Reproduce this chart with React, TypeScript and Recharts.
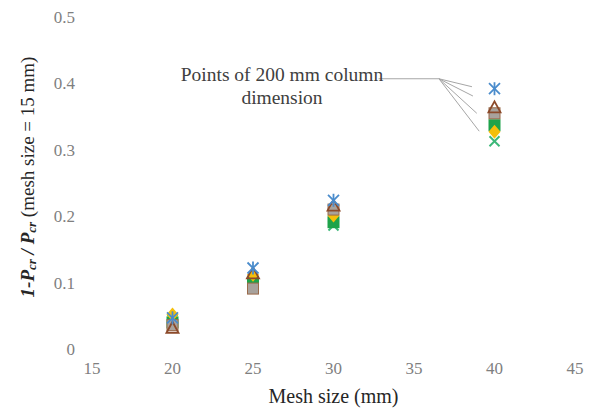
import React from 'react';
import {
  ScatterChart,
  Scatter,
  XAxis,
  YAxis,
  ReferenceLine,
  Label,
} from 'recharts';

// mesh sizes (mm) where the points sit
const meshSizes = [20, 25, 30, 40];

// 1 - Pcr / Pcr(15 mm), one list per marker series
const blueStar = [0.047, 0.122, 0.224, 0.392];
const brownTriangle = [0.032, 0.114, 0.216, 0.364];
const graySquare = [0.036, 0.091, 0.21, 0.355];
const greenSquare = [0.04, 0.101, 0.191, 0.337];
const yellowDiamond = [0.052, 0.112, 0.201, 0.327];
const greenCross = [0.044, 0.1, 0.186, 0.313];

const xTicks = [15, 20, 25, 30, 35, 40, 45];
const yTicks = [0, 0.1, 0.2, 0.3, 0.4, 0.5];

const toPoints = (vals: number[]) => meshSizes.map((x, i) => ({ x, y: vals[i] }));

const FONT = 'Liberation Serif, serif';
const TICK = { fill: '#7f7f7f', fontSize: 17, fontFamily: FONT };

// marker shapes
const Star = (p: any) => {
  const { cx, cy } = p;
  const r = 5.5;
  return (
    <g stroke="#4a8ccc" strokeWidth={1.8}>
      <line x1={cx - r} y1={cy - r} x2={cx + r} y2={cy + r} />
      <line x1={cx - r} y1={cy + r} x2={cx + r} y2={cy - r} />
      <line x1={cx} y1={cy - r - 1} x2={cx} y2={cy + r + 1} />
    </g>
  );
};

const Triangle = (p: any) => {
  const { cx, cy } = p;
  return (
    <path
      d={`M${cx - 6},${cy + 5} L${cx},${cy - 6} L${cx + 6},${cy + 5} Z`}
      fill="none"
      stroke="#8c4a2a"
      strokeWidth={1.8}
    />
  );
};

const GraySq = (p: any) => {
  const { cx, cy } = p;
  return <rect x={cx - 5.5} y={cy - 5.5} width={11} height={11} fill="#a8a29c" stroke="#9a6a4a" strokeWidth={1} />;
};

const GreenSq = (p: any) => {
  const { cx, cy } = p;
  return <rect x={cx - 6} y={cy - 6} width={12} height={12} fill="#1ea34a" />;
};

const Diamond = (p: any) => {
  const { cx, cy } = p;
  return <path d={`M${cx},${cy - 7} L${cx + 6},${cy} L${cx},${cy + 7} L${cx - 6},${cy} Z`} fill="#f5bf0a" />;
};

const XMark = (p: any) => {
  const { cx, cy } = p;
  const r = 5;
  return (
    <g stroke="#3cb878" strokeWidth={2}>
      <line x1={cx - r} y1={cy - r} x2={cx + r} y2={cy + r} />
      <line x1={cx - r} y1={cy + r} x2={cx + r} y2={cy - r} />
    </g>
  );
};

const YTitle = () => (
  <text
    x={27}
    y={177}
    transform="rotate(-90, 27, 177)"
    textAnchor="middle"
    dominantBaseline="central"
    fontFamily={FONT}
    fontSize={19}
    fill="#262626"
  >
    <tspan fontWeight="bold" fontStyle="italic">1-P</tspan>
    <tspan fontWeight="bold" fontStyle="italic" fontSize={13} dy={4}>cr</tspan>
    <tspan fontWeight="bold" fontStyle="italic" dy={-4}> / P</tspan>
    <tspan fontWeight="bold" fontStyle="italic" fontSize={13} dy={4}>cr</tspan>
    <tspan dy={-4}> (mesh size = 15 mm)</tspan>
  </text>
);

// annotation text, placed left of the leader line
const Note = () => (
  <text textAnchor="middle" fontFamily={FONT} fontSize={19.5} fill="#404040">
    <tspan x={282} y={81}>Points of 200 mm column</tspan>
    <tspan x={282} y={104}>dimension</tspan>
  </text>
);

export default function App() {
  return (
    <div style={{ position: 'absolute', left: 0, top: 0, width: 593, height: 412, background: '#fff' }}>
      <ScatterChart width={593} height={412} margin={{ top: 17, right: 18, bottom: 0, left: 0 }}>
        <XAxis
          dataKey="x"
          type="number"
          domain={[15, 45]}
          ticks={xTicks}
          axisLine={false}
          tickLine={false}
          tick={TICK}
          tickMargin={7}
          height={63}
        >
          <Label value="Mesh size (mm)" position="insideBottom" offset={9} fill="#262626" fontSize={20} fontFamily={FONT} />
        </XAxis>
        <YAxis
          dataKey="y"
          type="number"
          domain={[0, 0.5]}
          ticks={yTicks}
          axisLine={false}
          tickLine={false}
          tick={TICK}
          tickMargin={11}
          width={92}
          tickFormatter={(v: number) => (v === 0 ? '0' : v.toFixed(1))}
        >
          <Label content={<YTitle />} />
        </YAxis>

        {/* leader lines for the annotation */}
        <ReferenceLine segment={[{ x: 32.8, y: 0.407 }, { x: 36.55, y: 0.407 }]} stroke="#a6a6a6">
          <Label content={<Note />} />
        </ReferenceLine>
        <ReferenceLine segment={[{ x: 36.55, y: 0.407 }, { x: 38.6, y: 0.395 }]} stroke="#a6a6a6" />
        <ReferenceLine segment={[{ x: 36.55, y: 0.407 }, { x: 38.66, y: 0.381 }]} stroke="#a6a6a6" />
        <ReferenceLine segment={[{ x: 36.55, y: 0.407 }, { x: 38.9, y: 0.355 }]} stroke="#a6a6a6" />
        <ReferenceLine segment={[{ x: 36.55, y: 0.407 }, { x: 39.05, y: 0.328 }]} stroke="#a6a6a6" />

        <Scatter data={toPoints(greenCross)} shape={XMark} isAnimationActive={false} />
        <Scatter data={toPoints(greenSquare)} shape={GreenSq} isAnimationActive={false} />
        <Scatter data={toPoints(yellowDiamond)} shape={Diamond} isAnimationActive={false} />
        <Scatter data={toPoints(graySquare)} shape={GraySq} isAnimationActive={false} />
        <Scatter data={toPoints(brownTriangle)} shape={Triangle} isAnimationActive={false} />
        <Scatter data={toPoints(blueStar)} shape={Star} isAnimationActive={false} />
      </ScatterChart>
    </div>
  );
}
